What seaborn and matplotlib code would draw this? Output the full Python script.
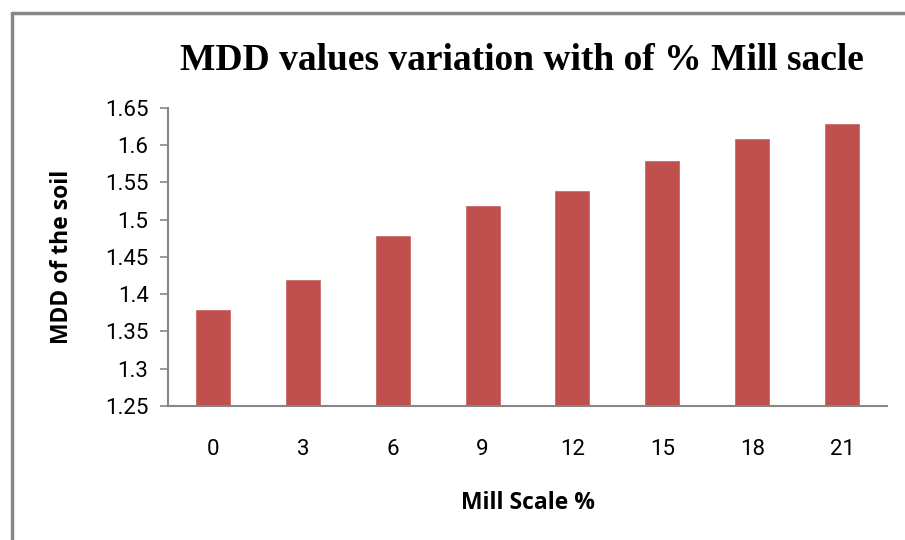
import matplotlib.pyplot as plt
import seaborn as sns
import pandas as pd
from matplotlib.lines import Line2D


mill_scale = ['0', '3', '6', '9', '12', '15', '18', '21']
mdd_values = [1.38, 1.42, 1.48, 1.52, 1.54, 1.58, 1.61, 1.63]
y_ticks = [1.25, 1.3, 1.35, 1.4, 1.45, 1.5, 1.55, 1.6, 1.65]

sns.set_theme(style='white')
plt.rcParams['font.family'] = ['Roboto', 'DejaVu Sans']
plt.rcParams['text.color'] = 'black'
plt.rcParams['xtick.color'] = 'black'
plt.rcParams['ytick.color'] = 'black'
plt.rcParams['axes.labelcolor'] = 'black'

data = pd.DataFrame({'Mill Scale %': mill_scale, 'MDD': mdd_values})

fig = plt.figure(figsize=(9.05, 5.4), dpi=100)
ax = fig.add_axes([168 / 905, 1 - 406 / 540, (887 - 168) / 905, (406 - 108) / 540])

sns.barplot(data=data, x='Mill Scale %', y='MDD', order=mill_scale,
            color='#C0504D', saturation=1, width=0.4, ax=ax)

ax.set_ylim(1.25, 1.65)
ax.set_yticks(y_ticks)
ax.set_yticklabels([f'{t:g}' for t in y_ticks])
ax.set_xlim(-0.5, len(mill_scale) - 0.5)

grey = '#868686'
for side in ['top', 'right']:
    ax.spines[side].set_visible(False)
for side in ['left', 'bottom']:
    ax.spines[side].set_color(grey)
    ax.spines[side].set_linewidth(1.5)

ax.tick_params(axis='y', direction='out', length=6, width=1.2, color=grey,
               labelsize=16, pad=8, left=True)
ax.tick_params(axis='x', length=0, labelsize=16, pad=24)

ax.set_xlabel('Mill Scale %', fontsize=16.5, fontweight='bold',
              family=['Open Sans', 'DejaVu Sans'], labelpad=22)
ax.set_ylabel('MDD of the soil', fontsize=16.5, fontweight='bold',
              family=['Open Sans', 'DejaVu Sans'], labelpad=22)

fig.text(522 / 905, 1 - 61 / 540, 'MDD values variation with of % Mill sacle',
         ha='center', va='center', fontsize=27, fontweight='bold',
         family=['Liberation Serif', 'DejaVu Serif'])

# outer frame of the chart
fig.add_artist(Line2D([12 / 905, 12 / 905], [0, 1 - 13 / 540], color=grey, lw=2.5,
                      transform=fig.transFigure))
fig.add_artist(Line2D([12 / 905, 1], [1 - 13 / 540, 1 - 13 / 540], color=grey, lw=2.5,
                      transform=fig.transFigure))

plt.savefig('out.png', dpi=100)
